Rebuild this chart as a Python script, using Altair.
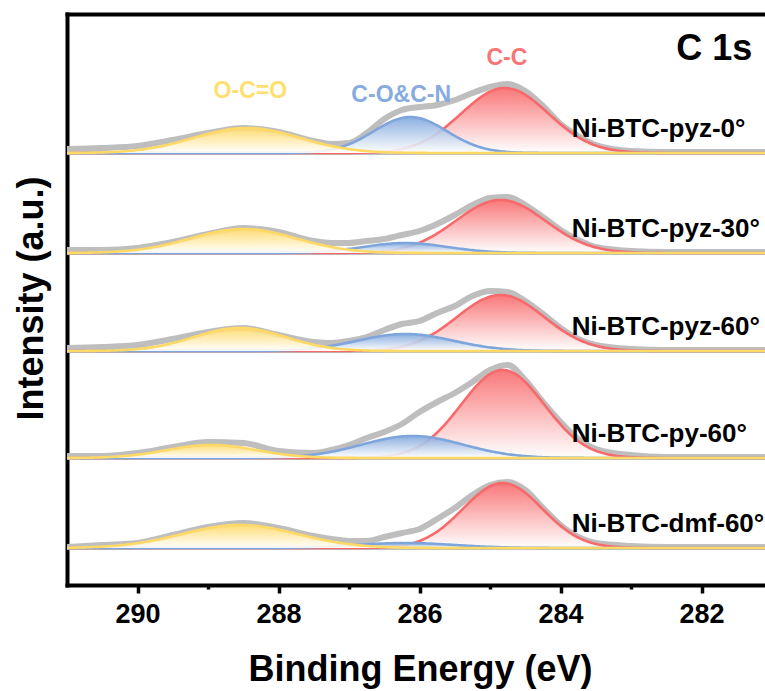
import altair as alt
import numpy as np
import pandas as pd

# ---------------- data ----------------
energy = [291.0, 290.5, 290.0, 289.5, 289.0, 288.5, 288.0, 287.5, 287.25, 287.0,
          286.75, 286.5, 286.25, 286.0, 285.75, 285.5, 285.25, 285.0, 284.75, 284.5,
          284.25, 284.0, 283.75, 283.5, 283.0, 282.5, 282.0, 281.5, 281.0]

samples = ["Ni-BTC-pyz-0°", "Ni-BTC-pyz-30°", "Ni-BTC-pyz-60°", "Ni-BTC-py-60°", "Ni-BTC-dmf-60°"]
offsets = [432, 332, 234, 127, 37]

raw_pyz0 = [4, 5, 7, 13, 20, 25, 21, 12, 9, 10, 20, 34, 43, 46, 48, 53, 60, 66, 69, 62, 47, 29, 17, 8, 2, 1, 1, 1, 1]
raw_pyz30 = [3, 3, 5, 11, 19, 25, 21, 12, 10, 10, 12, 14, 18, 22, 29, 38, 48, 55, 56, 48, 36, 23, 13, 6, 2, 1, 1, 1, 1]
raw_pyz60 = [3, 4, 6, 12, 19, 23, 16, 9, 8, 10, 14, 21, 27, 30, 38, 45, 55, 60, 59, 50, 37, 23, 12, 6, 2, 1, 1, 1, 1]
raw_py60 = [2, 2, 5, 11, 16, 15, 7, 5, 8, 13, 20, 26, 34, 46, 56, 65, 76, 88, 93, 78, 56, 36, 19, 9, 3, 1, 1, 1, 1]
raw_dmf60 = [1, 3, 5, 13, 21, 25, 20, 12, 9, 7, 7, 11, 15, 19, 29, 40, 53, 63, 66, 58, 40, 23, 11, 5, 2, 1, 1, 1, 1]
raw_all = [raw_pyz0, raw_pyz30, raw_pyz60, raw_py60, raw_dmf60]

# fitted components (centre eV, height, FWHM eV)
occ_center = [288.45, 288.5, 288.55, 288.95, 288.55]
occ_height = [25, 24, 23, 13, 23]
occ_fwhm = [1.77, 1.77, 1.53, 1.5, 1.93]

co_center = [286.13, 286.2, 286.2, 286.1, 286.2]
co_height = [36, 10, 17, 22, 5]
co_fwhm = [1.22, 1.41, 1.6, 1.7, 1.65]

cc_center = [284.79, 284.85, 284.85, 284.82, 284.82]
cc_height = [65, 53, 56, 88, 65]
cc_fwhm = [1.46, 1.5, 1.46, 1.39, 1.32]

components = ["C-C", "C-O&C-N", "O-C=O"]
comp_colors = {"C-C": "#F8696B", "C-O&C-N": "#7EA6DC", "O-C=O": "#FFD966"}
label_colors = {"C-C": "#F87477", "C-O&C-N": "#86ABDF", "O-C=O": "#FFDF70"}
peak_label_x = [284.76, 286.26, 288.40]
peak_label_y = [520, 483, 487]

# ---------------- tables ----------------
raw_rows = []
for s, off, vals in zip(samples, offsets, raw_all):
    for e, v in zip(energy, vals):
        raw_rows.append({"sample": s, "energy": e, "y": off + v})
raw_df = pd.DataFrame(raw_rows)

base_df = pd.DataFrame({"sample": samples, "base": offsets,
                        "lx": [283.84] * 5, "ly": [o + 16 for o in offsets]})

grid = np.round(np.arange(281.0, 291.0001, 0.025), 3)
fit_rows = []
params = {
    "O-C=O": (occ_center, occ_height, occ_fwhm),
    "C-O&C-N": (co_center, co_height, co_fwhm),
    "C-C": (cc_center, cc_height, cc_fwhm),
}
for comp, (cs, hs, ws) in params.items():
    for s, off, c, h, w in zip(samples, offsets, cs, hs, ws):
        sig = w / 2.3548
        g = h * np.exp(-((grid - c) ** 2) / (2 * sig ** 2))
        for e, v in zip(grid, g):
            fit_rows.append({"sample": s, "component": comp, "energy": float(e),
                             "y": off + float(v), "base": off})
fit_df = pd.DataFrame(fit_rows)

peak_df = pd.DataFrame({"component": components, "x": peak_label_x, "y": peak_label_y})
title_df = pd.DataFrame({"t": ["C 1s"], "x": [281.28], "y": [525]})

# ---------------- scales / axes ----------------
FONT = "Liberation Sans"
xscale = alt.Scale(domain=[281.1, 291.0], reverse=True, nice=False, zero=False)
yscale = alt.Scale(domain=[0, 571], nice=False, zero=True)

x_axis = alt.Axis(
    values=[282, 283, 284, 285, 286, 287, 288, 289, 290],
    labelExpr="datum.value % 2 === 0 ? datum.label : ''",
    title="Binding Energy (eV)",
    titleFont=FONT, titleFontSize=36, titleFontWeight="bold", titleColor="black",
    titleX=353, titleY=95, titleBaseline="alphabetic",
    labelFont=FONT, labelFontSize=27, labelFontWeight="bold", labelColor="black",
    labelPadding=8, labelFlush=False,
    tickColor="black", tickWidth=3.5,
    tickSize={"condition": {"test": "datum.value % 2 === 0", "value": 8}, "value": 4},
    domainColor="black", domainWidth=4, domainCap="square", grid=False,
)
x_top_axis = alt.Axis(orient="top", labels=False, ticks=False, title=None,
                      domainColor="black", domainWidth=4, domainCap="square", grid=False)
y_axis = alt.Axis(labels=False, ticks=False, grid=False,
                  title="Intensity (a.u.)", titleFont=FONT, titleFontSize=36,
                  titleFontWeight="bold", titleColor="black",
                  titleAngle=-90, titleX=-25, titleY=284, titleAlign="center",
                  titleBaseline="alphabetic",
                  domainColor="black", domainWidth=4, domainCap="square")

X = alt.X("energy:Q", scale=xscale, axis=None)
Y = alt.Y("y:Q", scale=yscale, axis=None)

GREY = "#BEBEBE"

baseline = alt.Chart(base_df).mark_rule(color=GREY, strokeWidth=4).encode(
    y=alt.Y("base:Q", scale=yscale, axis=y_axis)
)

raw_line = alt.Chart(raw_df).mark_line(color=GREY, strokeWidth=6, interpolate="monotone",
                                       clip=True).encode(
    x=alt.X("energy:Q", scale=xscale, axis=x_axis), y=Y, detail="sample:N"
)

layers = [baseline, raw_line]
for comp in components:
    col = comp_colors[comp]
    sub = fit_df[fit_df["component"] == comp]
    grad = alt.Gradient(
        gradient="linear",
        stops=[alt.GradientStop(color="white", offset=0),
               alt.GradientStop(color=col, offset=1)],
        x1=1, x2=1, y1=1, y2=0,
    )
    area = alt.Chart(sub).mark_area(color=grad, opacity=0.9, clip=True).encode(
        x=X, y=Y, y2="base:Q", detail="sample:N"
    )
    line = alt.Chart(sub).mark_line(color=col, strokeWidth=2.6, clip=True).encode(
        x=X, y=Y, detail="sample:N"
    )
    layers += [area, line]

top_border = alt.Chart(raw_df).mark_point(opacity=0).encode(
    x=alt.X("energy:Q", scale=xscale, axis=x_top_axis), y=Y
)

sample_text = alt.Chart(base_df).mark_text(
    font=FONT, fontSize=26, fontWeight="bold", color="black", align="left",
    baseline="alphabetic"
).encode(x=alt.X("lx:Q", scale=xscale, axis=None),
         y=alt.Y("ly:Q", scale=yscale, axis=None), text="sample:N")

peak_text = alt.Chart(peak_df).mark_text(
    font=FONT, fontSize=23, fontWeight="bold", align="center", baseline="alphabetic"
).encode(
    x=alt.X("x:Q", scale=xscale, axis=None),
    y=alt.Y("y:Q", scale=yscale, axis=None),
    text="component:N",
    color=alt.Color("component:N",
                    scale=alt.Scale(domain=components,
                                    range=[label_colors[c] for c in components]),
                    legend=None),
)

c1s = alt.Chart(title_df).mark_text(
    font=FONT, fontSize=36, fontWeight="bold", color="black", align="right",
    baseline="alphabetic"
).encode(x=alt.X("x:Q", scale=xscale, axis=None),
         y=alt.Y("y:Q", scale=yscale, axis=None), text="t:N")

chart = alt.layer(*layers, top_border, sample_text, peak_text, c1s).resolve_axis(
    x="independent", y="independent"
).properties(
    width=698, height=571,
    autosize=alt.AutoSizeParams(type="none"),
    padding={"left": 67, "top": 14, "right": 0, "bottom": 106},
    background="white",
).configure_view(stroke=None)

chart.save("out.html", embed_options={"renderer": "svg", "actions": False})
